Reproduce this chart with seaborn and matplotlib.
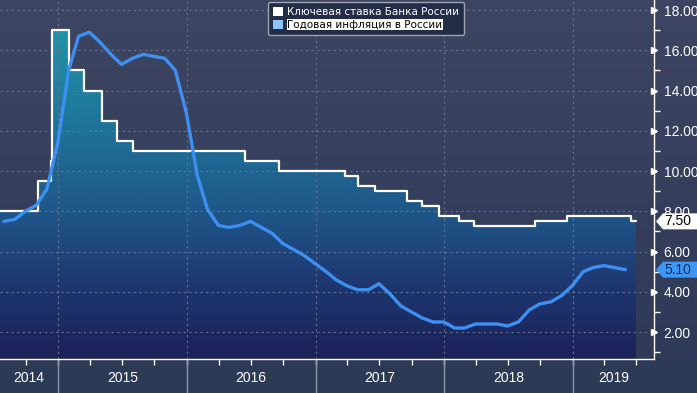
import numpy as np
import pandas as pd
import matplotlib
matplotlib.use("Agg")
import matplotlib.pyplot as plt
import matplotlib.dates as mdates
import matplotlib.transforms as mtransforms
from matplotlib.colors import LinearSegmentedColormap
from matplotlib.patches import Polygon, Rectangle, Patch
from matplotlib.ticker import MultipleLocator, FormatStrFormatter, NullFormatter
import seaborn as sns

# Data
rate_dates = ["2014-07-20", "2014-11-05", "2014-12-12", "2014-12-16", "2015-02-02",
              "2015-03-16", "2015-05-05", "2015-06-16", "2015-08-03", "2016-06-14",
              "2016-09-19", "2017-03-27", "2017-05-02", "2017-06-19", "2017-09-18",
              "2017-10-30", "2017-12-18", "2018-02-12", "2018-03-26", "2018-09-17",
              "2018-12-17", "2019-06-17", "2019-06-30"]
rate_values = [8.0, 9.5, 10.5, 17.0, 15.0, 14.0, 12.5, 11.5, 11.0, 10.5,
               10.0, 9.75, 9.25, 9.0, 8.5, 8.25, 7.75, 7.5, 7.25, 7.5,
               7.75, 7.5, 7.5]

cpi_months = pd.date_range("2014-07-31", "2019-05-31", freq="ME")
cpi_values = [7.5, 7.6, 8.0, 8.3, 9.1, 11.4,
              15.0, 16.7, 16.9, 16.4, 15.8, 15.3, 15.6, 15.8, 15.7, 15.6, 15.0, 12.9,
              9.8, 8.1, 7.3, 7.2, 7.3, 7.5, 7.2, 6.9, 6.4, 6.1, 5.8, 5.4,
              5.0, 4.6, 4.3, 4.1, 4.1, 4.4, 3.9, 3.3, 3.0, 2.7, 2.5, 2.5,
              2.2, 2.2, 2.4, 2.4, 2.4, 2.3, 2.5, 3.1, 3.4, 3.5, 3.8, 4.3,
              5.0, 5.2, 5.3, 5.2, 5.1]

legend_labels = ["Ключевая ставка Банка России", "Годовая инфляция в России"]
y_ticks = [2, 4, 6, 8, 10, 12, 14, 16, 18]
years = [2014, 2015, 2016, 2017, 2018, 2019]
x_range = ["2014-07-20", "2019-08-20"]
y_range = [0.66, 18.5]

# Colors
BG_TOP, BG_BOTTOM = "#3d4562", "#2f3a58"
BAND = "#2c3a56"
GRID = "#66728f"
RATE_COLOR = "white"
CPI_COLOR = "#3d8ff0"
NUM_FONT = ["Liberation Sans", "DejaVu Sans"]

sns.set_style("ticks")
plt.rcParams["font.family"] = ["DejaVu Sans"]

W, H = 697, 393
fig = plt.figure(figsize=(W / 100, H / 100), dpi=100)

band_h = (H - 359) / H
# background
bg = fig.add_axes([0, 0, 1, 1], zorder=-1)
bg.set_xlim(0, 1)
bg.set_ylim(0, 1)
bg.axis("off")
bg_cmap = LinearSegmentedColormap.from_list("bg", [BG_BOTTOM, BG_TOP])
bg.imshow(np.linspace(0, 1, 256).reshape(-1, 1), cmap=bg_cmap, origin="lower",
          extent=[0, 1, band_h, 1], aspect="auto")
bg.add_patch(Rectangle((0, 0), 1, band_h, color=BAND, lw=0))

ax = fig.add_axes([0, band_h, 654 / W, 1 - band_h])
ax.set_facecolor("none")

rate_x = mdates.date2num(pd.to_datetime(rate_dates))
x0, x1 = mdates.date2num(pd.to_datetime(x_range))

# gradient area under key rate
fill = ax.fill_between(rate_x, rate_values, y_range[0], step="post",
                       facecolor="none", edgecolor="none")
fill_cmap = LinearSegmentedColormap.from_list(
    "fill", [(0.0, "#1b2258"), (0.2, "#1e3670"), (0.42, "#1f588a"),
             (0.6, "#1f6d96"), (0.9, "#1f92a8"), (1.0, "#1f9aac")])
grad = ax.imshow(np.linspace(0, 1, 256).reshape(-1, 1), cmap=fill_cmap, origin="lower",
                 extent=[x0, x1, y_range[0], y_range[1]], aspect="auto", zorder=1)
grad.set_clip_path(fill.get_paths()[0], transform=ax.transData)

# grid
year_starts = mdates.date2num(pd.to_datetime([f"{y}-01-01" for y in years[1:]]))
for v in y_ticks:
    ax.axhline(v, color=GRID, lw=0.8, ls=(0, (2, 3)), zorder=2)
for xs in year_starts:
    ax.axvline(xs, color=GRID, lw=0.8, ls=(0, (2, 3)), zorder=2)

sns.lineplot(x=pd.to_datetime(rate_dates), y=rate_values, drawstyle="steps-post",
             color=RATE_COLOR, lw=1.6, ax=ax, zorder=4)
sns.lineplot(x=cpi_months, y=cpi_values, color=CPI_COLOR, lw=2.4, ax=ax, zorder=5)

ax.set_xlim(x0, x1)
ax.set_ylim(*y_range)
ax.set_xlabel("")
ax.set_ylabel("")

# axes styling
for s in ["left", "top"]:
    ax.spines[s].set_visible(False)
for s in ["right", "bottom"]:
    ax.spines[s].set_color("white")
    ax.spines[s].set_linewidth(1)

ax.yaxis.tick_right()
ax.set_yticks(y_ticks)
ax.yaxis.set_major_formatter(FormatStrFormatter("%.2f"))
ax.yaxis.set_minor_locator(MultipleLocator(1))
ax.tick_params(axis="y", which="major", colors="white", labelsize=10, pad=7, length=0)
ax.tick_params(axis="y", which="minor", colors="white", length=4, width=1, direction="out")
for lab in ax.get_yticklabels():
    lab.set_family(NUM_FONT)
ax.plot([1] * len(y_ticks), y_ticks, marker=">", ms=5, color="white", ls="none",
        transform=mtransforms.blended_transform_factory(ax.transAxes, ax.transData),
        clip_on=False, zorder=6)

ax.xaxis.set_major_locator(mdates.MonthLocator(bymonth=[1, 4, 7, 10]))
ax.xaxis.set_major_formatter(NullFormatter())
ax.tick_params(axis="x", which="major", colors="white", length=4, width=1, direction="out")

# year band separators and labels
band_ax = band_h / (1 - band_h)
xtrans = mtransforms.blended_transform_factory(ax.transData, ax.transAxes)
ax.vlines(year_starts, -band_ax, 0, transform=xtrans, color="#8a94aa", lw=1, clip_on=False)
for y in years:
    a = max(mdates.date2num(pd.Timestamp(f"{y}-01-01")), x0)
    b = min(mdates.date2num(pd.Timestamp(f"{y + 1}-01-01")), x1)
    ax.text((a + b) / 2, -band_ax * 0.56, str(y), transform=xtrans, ha="center",
            va="center", color="white", fontsize=10, family=NUM_FONT)

# legend
handles = [Patch(facecolor="white", edgecolor="none"),
           Patch(facecolor="#8cc4ff", edgecolor="none")]
leg = ax.legend(handles, legend_labels, loc="upper center", bbox_to_anchor=(0.56, 1.0),
                fontsize=7.5, frameon=True, facecolor="#232d47", edgecolor="#a0a4b0",
                framealpha=1, handlelength=0.9, handleheight=0.9, handletextpad=0.4,
                labelspacing=0.25, borderpad=0.5, borderaxespad=0.2, fancybox=True)
leg.set_zorder(10)
texts = leg.get_texts()
texts[0].set_color("white")
texts[1].set_color("black")
texts[1].set_bbox(dict(facecolor="white", edgecolor="none", pad=0.3))

# last-value tags
fig.canvas.draw()


def value_tag(value, face, text_color):
    _, yp = ax.transData.transform((x0, value))
    xp = ax.transAxes.transform((1, 0))[0] + 2
    hh = 8
    pts = [(xp, yp), (xp + 7, yp + hh), (W, yp + hh), (W, yp - hh), (xp + 7, yp - hh)]
    poly = Polygon(pts, closed=True, facecolor=face, edgecolor="none",
                   transform=mtransforms.IdentityTransform(), zorder=20)
    fig.add_artist(poly)
    fig.text((xp + 8) / W, yp / H, f"{value:.2f}", ha="left", va="center",
             color=text_color, fontsize=10, family=NUM_FONT, zorder=21)


value_tag(rate_values[-1], "white", "black")
value_tag(cpi_values[-1], "#3f97f5", "#0b2a66")

fig.savefig("out.png", dpi=100)
